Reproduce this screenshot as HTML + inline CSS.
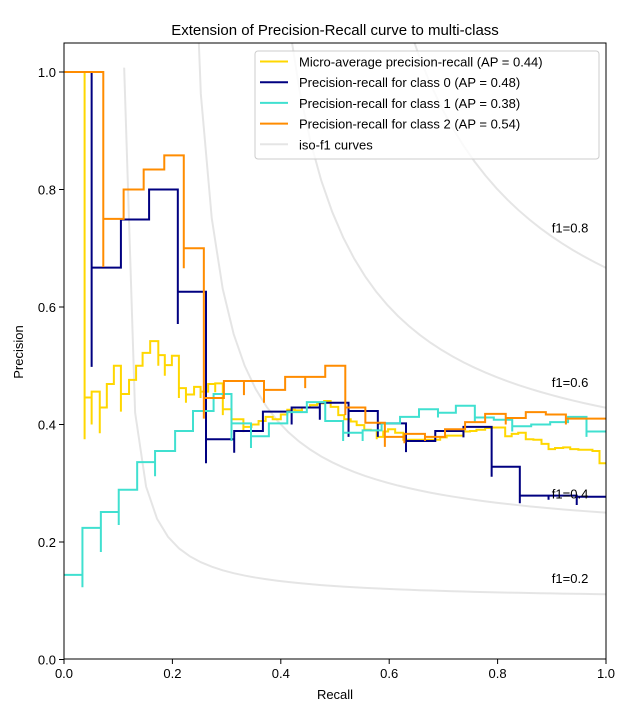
<!DOCTYPE html>
<html><head><meta charset="utf-8"><style>
html,body{margin:0;padding:0;background:#fff;}
svg{display:block;font-family:"Liberation Sans","DejaVu Sans",sans-serif;}
</style></head><body>
<svg id="chart" width="635" height="713" viewBox="0 0 635 713" xmlns="http://www.w3.org/2000/svg">
<defs><clipPath id="plotclip"><rect x="64" y="43" width="542" height="616"/></clipPath></defs>
<rect width="635" height="713" fill="#fff"/>
<text x="335" y="35" font-size="15" text-anchor="middle">Extension of Precision-Recall curve to multi-class</text>
<g id="iso" clip-path="url(#plotclip)"></g>
<g id="series" clip-path="url(#plotclip)"></g>
<g id="axes"></g>
<g id="legend"></g>
</svg>
<script>
const isoF1Scores = [0.2, 0.4, 0.6, 0.8];
const xTicks = [0.0, 0.2, 0.4, 0.6, 0.8, 1.0];
const yTicks = [0.0, 0.2, 0.4, 0.6, 0.8, 1.0];
const xTickLabels = ["0.0","0.2","0.4","0.6","0.8","1.0"];
const yTickLabels = ["0.0","0.2","0.4","0.6","0.8","1.0"];

const microRecall = [0,0.038,0.038,0.051,0.051,0.066,0.066,0.079,0.092,0.105,0.105,0.12,0.133,0.145,0.159,0.174,0.174,0.186,0.186,0.199,0.212,0.212,0.225,0.225,0.24,0.252,0.252,0.266,0.279,0.279,0.293,0.293,0.309,0.309,0.331,0.331,0.346,0.359,0.372,0.385,0.40,0.412,0.426,0.439,0.454,0.467,0.48,0.492,0.506,0.517,0.529,0.54,0.554,0.566,0.577,0.577,0.589,0.598,0.611,0.626,0.694,0.706,0.737,0.749,0.761,0.777,0.789,0.814,0.826,0.838,0.852,0.866,0.881,0.894,0.906,0.921,0.934,0.949,0.961,0.975,0.988,1.0];
const microPrecision = [1.0,0.375,0.446,0.40,0.456,0.385,0.429,0.469,0.50,0.422,0.452,0.476,0.50,0.522,0.542,0.50,0.518,0.483,0.501,0.517,0.445,0.462,0.437,0.451,0.464,0.445,0.456,0.469,0.455,0.47,0.416,0.426,0.405,0.409,0.387,0.396,0.40,0.406,0.413,0.409,0.417,0.425,0.424,0.429,0.433,0.436,0.44,0.43,0.416,0.409,0.405,0.399,0.391,0.39,0.375,0.379,0.388,0.392,0.386,0.374,0.378,0.381,0.388,0.389,0.391,0.394,0.395,0.38,0.384,0.386,0.375,0.374,0.367,0.358,0.36,0.361,0.358,0.357,0.357,0.355,0.334,0.334];

const class0Recall = [0,0.051,0.051,0.105,0.157,0.21,0.21,0.262,0.262,0.314,0.314,0.367,0.42,0.42,0.472,0.472,0.525,0.525,0.579,0.579,0.631,0.631,0.685,0.737,0.737,0.789,0.789,0.841,0.841,0.894,0.894,0.946,0.946,1.0];
const class0Precision = [1.0,0.498,0.667,0.749,0.80,0.571,0.626,0.334,0.375,0.352,0.389,0.422,0.40,0.429,0.408,0.437,0.379,0.423,0.379,0.402,0.353,0.372,0.389,0.378,0.396,0.311,0.328,0.266,0.279,0.272,0.279,0.263,0.277,0.277];

const class1Recall = [0,0.034,0.034,0.068,0.068,0.101,0.101,0.135,0.168,0.168,0.205,0.238,0.276,0.309,0.309,0.345,0.345,0.378,0.412,0.448,0.482,0.515,0.515,0.551,0.551,0.586,0.62,0.655,0.69,0.69,0.723,0.758,0.758,0.793,0.827,0.827,0.862,0.897,0.93,0.964,0.964,1.0];
const class1Precision = [0.144,0.123,0.224,0.183,0.251,0.229,0.289,0.336,0.312,0.355,0.389,0.423,0.452,0.372,0.402,0.36,0.38,0.402,0.421,0.438,0.406,0.372,0.386,0.372,0.39,0.402,0.413,0.426,0.412,0.42,0.432,0.405,0.412,0.408,0.388,0.397,0.40,0.404,0.413,0.379,0.388,0.388];

const class2Recall = [0,0.0725,0.0725,0.11,0.147,0.185,0.221,0.221,0.258,0.258,0.295,0.332,0.332,0.369,0.369,0.408,0.445,0.445,0.482,0.519,0.519,0.556,0.592,0.592,0.628,0.628,0.666,0.666,0.703,0.74,0.777,0.815,0.815,0.852,0.889,0.926,0.926,1.0];
const class2Precision = [1.0,0.668,0.75,0.80,0.834,0.858,0.666,0.70,0.41,0.445,0.474,0.45,0.474,0.437,0.459,0.481,0.462,0.481,0.50,0.416,0.429,0.403,0.362,0.379,0.368,0.384,0.372,0.379,0.392,0.404,0.418,0.40,0.411,0.421,0.417,0.40,0.41,0.41];

const legendLabels = ["Micro-average precision-recall (AP = 0.44)","Precision-recall for class 0 (AP = 0.48)","Precision-recall for class 1 (AP = 0.38)","Precision-recall for class 2 (AP = 0.54)","iso-f1 curves"];

const NS="http://www.w3.org/2000/svg";
const X0=64, X1=606, Y0=659.5, Y1=72;
function xs(v){return X0+v*(X1-X0);}
function ys(v){return Y0-v*(Y0-Y1);}
function mk(tag, parent, attrs){const e=document.createElementNS(NS,tag);for(const k in attrs)e.setAttribute(k,attrs[k]);parent.appendChild(e);return e;}

// iso-f1
const iso=document.getElementById('iso');
isoF1Scores.forEach(f=>{
  let d="";
  for(let i=0;i<50;i++){
    const x=0.01+i*0.99/49;
    if(2*x-f<=0) continue;
    const y=f*x/(2*x-f);
    if(y<0) continue;
    d+=(d?"L":"M")+xs(x).toFixed(2)+","+ys(Math.min(y,5)).toFixed(2);
  }
  const p=mk('path',iso,{d:d,fill:'none',stroke:'#000','stroke-opacity':0.1,'stroke-width':2});
  
  
  const xl=0.01+45*0.99/49, yl=f*xl/(2*xl-f)+0.02;
  const t=mk('text',document.getElementById('chart'),{x:xs(0.9),y:ys(yl)+1,'font-size':13});
  t.textContent="f1="+f.toFixed(1);
  
  
});

// series
const ser=document.getElementById('series');
function stepPath(r,p){
  let d="M"+xs(r[0]).toFixed(2)+","+ys(p[0]).toFixed(2);
  for(let i=1;i<r.length;i++){d+="H"+xs(r[i]).toFixed(2)+"V"+ys(p[i]).toFixed(2);}
  return d;
}
const seriesDefs=[[microRecall,microPrecision,'gold','micro-average-curve'],[class0Recall,class0Precision,'navy','class-0-curve'],[class1Recall,class1Precision,'turquoise','class-1-curve'],[class2Recall,class2Precision,'darkorange','class-2-curve']];
seriesDefs.forEach(s=>{
  const p=mk('path',ser,{d:stepPath(s[0],s[1]),fill:'none',stroke:s[2],'stroke-width':2});
  
  
});

// axes
const ax=document.getElementById('axes');
const frame=mk('rect',ax,{x:64,y:43,width:542,height:616,fill:'none',stroke:'#000','stroke-width':1});


xTicks.forEach((v,i)=>{
  mk('line',ax,{x1:xs(v),x2:xs(v),y1:659,y2:664,stroke:'#000'});
  const t=mk('text',ax,{x:xs(v),y:678,'font-size':13,'text-anchor':'middle'});
  t.textContent=xTickLabels[i];
  
  
});
yTicks.forEach((v,i)=>{
  mk('line',ax,{x1:59,x2:64,y1:ys(v),y2:ys(v),stroke:'#000'});
  const t=mk('text',ax,{x:56,y:ys(v)+5,'font-size':13,'text-anchor':'end'});
  t.textContent=yTickLabels[i];
  
  
});
const xt=mk('text',ax,{x:335,y:699,'font-size':13,'text-anchor':'middle'});
xt.textContent="Recall";


const yt=mk('text',ax,{x:23,y:352,'font-size':13,'text-anchor':'middle',transform:'rotate(-90 23 352)'});
yt.textContent="Precision";



// legend
const lg=document.getElementById('legend');
const box=mk('rect',lg,{x:255,y:51,width:344,height:108,rx:3,fill:'#fff','fill-opacity':0.8,stroke:'#ccc'});


const lcolors=['gold','navy','turquoise','darkorange','rgba(0,0,0,0.1)'];
legendLabels.forEach((lab,i)=>{
  const y=61.5+i*20.7;
  const ln=mk('line',lg,{x1:260,x2:288,y1:y,y2:y,stroke:lcolors[i],'stroke-width':2});
  
  
  const t=mk('text',lg,{x:299,y:y+5,'font-size':13});
  t.textContent=lab;
  
  
});
</script>
</body></html>
